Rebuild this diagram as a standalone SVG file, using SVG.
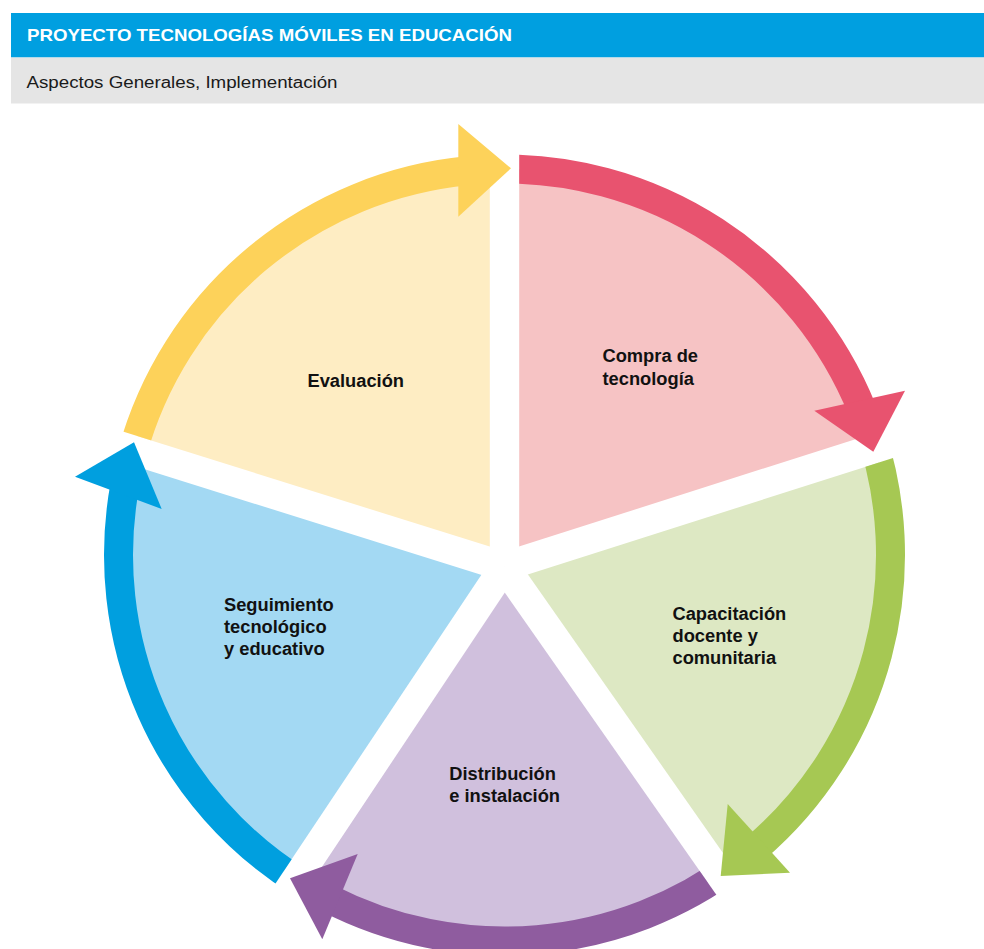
<svg xmlns="http://www.w3.org/2000/svg" width="984" height="949" viewBox="0 0 984 949">
  <defs>
    <style>
      .title { font-family: "Liberation Sans", Arial, Helvetica, sans-serif; font-weight: bold; font-size: 17px; fill: #ffffff; }
      .subtitle { font-family: "Liberation Sans", Arial, Helvetica, sans-serif; font-size: 16px; fill: #1a1a1a; }
      .label { font-family: "Liberation Sans", Arial, Helvetica, sans-serif; font-weight: bold; font-size: 18.3px; fill: #111111; }
      .band { fill: none; stroke-width: 29; stroke-linecap: butt; }
      .gap { fill: #ffffff; }
    </style>
    <!-- disc that bounds the coloured wedges -->
    <clipPath id="disc">
      <circle cx="504.5" cy="555" r="386"/>
    </clipPath>
    <!-- half-planes that square off the start of each band along its gap edge -->
    <clipPath id="start-yellow"><rect x="519.2" y="-1000" width="2000" height="3000" transform="rotate(287.4 504.5 566.6)"/></clipPath>
    <clipPath id="start-pink"><rect x="519.2" y="-1000" width="2000" height="3000"/></clipPath>
    <clipPath id="start-green"><rect x="519.2" y="-1000" width="2000" height="3000" transform="rotate(72.3 504.5 566.6)"/></clipPath>
    <clipPath id="start-purple"><rect x="519.2" y="-1000" width="2000" height="3000" transform="rotate(145 504.5 566.6)"/></clipPath>
    <clipPath id="start-blue"><rect x="519.2" y="-1000" width="2000" height="3000" transform="rotate(213.7 504.5 566.6)"/></clipPath>
  </defs>

  <rect width="984" height="949" fill="#ffffff"/>

  <!-- header -->
  <g id="header">
    <rect x="11" y="13" width="973" height="44.5" fill="#009fe0"/>
    <rect x="11" y="57.5" width="973" height="46" fill="#e5e5e5"/>
    <text class="title" x="27" y="41" textLength="485" lengthAdjust="spacingAndGlyphs">PROYECTO TECNOLOGÍAS MÓVILES EN EDUCACIÓN</text>
    <text class="subtitle" x="26.5" y="87.5" textLength="311" lengthAdjust="spacingAndGlyphs">Aspectos Generales, Implementación</text>
  </g>

  <!-- wedges -->
  <g id="node-evaluacion">
    <polygon points="504.5,566.6 -258.9,327.4 504.5,-233.4" fill="#feedc3" clip-path="url(#disc)"/>
    <text class="label" x="307.5" y="386.7">Evaluación</text>
  </g>
  <g id="node-compra">
    <polygon points="504.5,566.6 504.5,-233.4 1266.6,323.4" fill="#f6c3c4" clip-path="url(#disc)"/>
    <text class="label" x="602.5" y="362.3">Compra de</text>
    <text class="label" x="602.5" y="384.5">tecnología</text>
  </g>
  <g id="node-capacitacion">
    <polygon points="504.5,566.6 1266.6,323.4 963.4,1221.9" fill="#dde8c3" clip-path="url(#disc)"/>
    <text class="label" x="672.5" y="620">Capacitación</text>
    <text class="label" x="672.5" y="642">docente y</text>
    <text class="label" x="672.5" y="664">comunitaria</text>
  </g>
  <g id="node-distribucion">
    <polygon points="504.5,566.6 963.4,1221.9 60.6,1232.2" fill="#d0c0dd" clip-path="url(#disc)"/>
    <text class="label" x="449.3" y="780.3">Distribución</text>
    <text class="label" x="449.3" y="802.3">e instalación</text>
  </g>
  <g id="node-seguimiento">
    <polygon points="504.5,566.6 60.6,1232.2 -258.9,327.4" fill="#a3d9f3" clip-path="url(#disc)"/>
    <text class="label" x="224" y="610.7">Seguimiento</text>
    <text class="label" x="224" y="632.7">tecnológico</text>
    <text class="label" x="224" y="654.7">y educativo</text>
  </g>

  <!-- white gaps between wedges -->
  <g id="gaps">
    <rect class="gap" x="489.8" y="146.6" width="29.4" height="420"/>
    <rect class="gap" x="489.8" y="146.6" width="29.4" height="420" transform="rotate(72.3 504.5 566.6)"/>
    <rect class="gap" x="489.8" y="146.6" width="29.4" height="420" transform="rotate(145 504.5 566.6)"/>
    <rect class="gap" x="489.8" y="146.6" width="29.4" height="420" transform="rotate(213.7 504.5 566.6)"/>
    <rect class="gap" x="489.8" y="146.6" width="29.4" height="420" transform="rotate(287.4 504.5 566.6)"/>
  </g>

  <!-- curved arrows running clockwise round the cycle -->
  <g id="connectors">
    <g id="arrow-evaluacion-compra">
      <path class="band" stroke="#fdd25a" clip-path="url(#start-yellow)" d="M 132.36 452.49 A 386 386 0 0 1 467.5 170.78"/>
      <polygon fill="#fdd25a" points="458.3,124 511,168.3 458.3,216.7"/>
    </g>
    <g id="arrow-compra-capacitacion">
      <path class="band" stroke="#e8536f" clip-path="url(#start-pink)" d="M 491.03 169.24 A 386 386 0 0 1 862.39 410.4"/>
      <polygon fill="#e8536f" points="905,390.7 873.3,451.7 814.3,410.7"/>
    </g>
    <g id="arrow-capacitacion-distribucion">
      <path class="band" stroke="#a6c853" clip-path="url(#start-green)" d="M 867.91 424.88 A 386 386 0 0 1 755.19 848.52"/>
      <polygon fill="#a6c853" points="727.7,804 720.7,876 790,872.7"/>
    </g>
    <g id="arrow-distribucion-seguimiento">
      <path class="band" stroke="#8f5c9f" clip-path="url(#start-purple)" d="M 736.8 863.27 A 386 386 0 0 1 328.08 898.33"/>
      <polygon fill="#8f5c9f" points="357.7,854 290,878.3 322.3,939.3"/>
    </g>
    <g id="arrow-seguimiento-evaluacion">
      <path class="band" stroke="#009fdf" clip-path="url(#start-blue)" d="M 301.63 883.39 A 386 386 0 0 1 125.09 484"/>
      <polygon fill="#009fdf" points="161.7,509 134,442.3 75,476.7"/>
    </g>
  </g>
</svg>
